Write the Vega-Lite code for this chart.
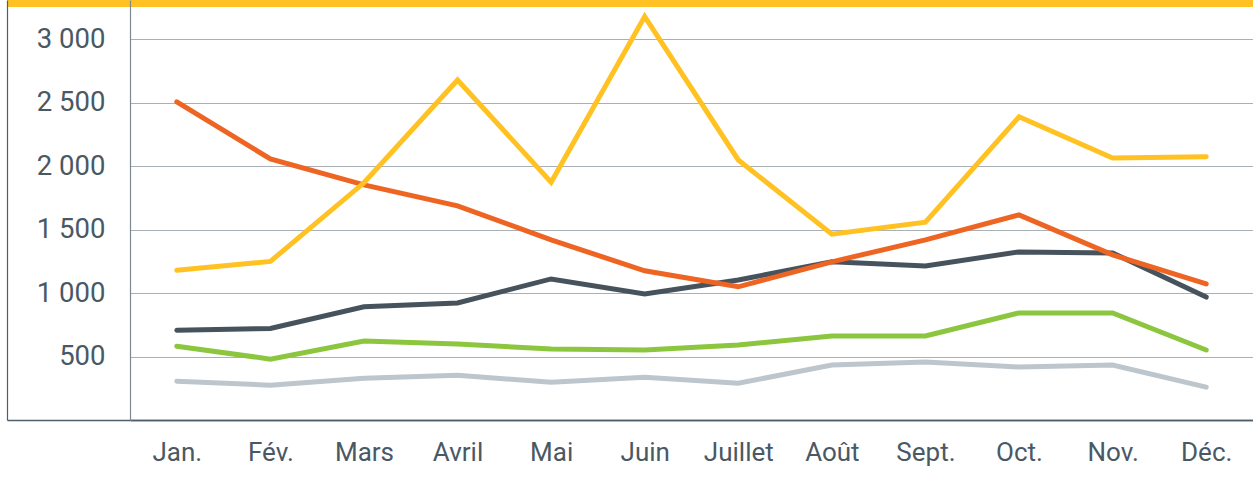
{
  "$schema": "https://vega.github.io/schema/vega-lite/v6.json",
  "width": 1123,
  "height": 420,
  "autosize": "none",
  "padding": {"left": 130, "top": 0, "right": 0, "bottom": 61},
  "background": "white",
  "config": {"view": {"stroke": null}},
  "data": {
    "values": [
      {"mois": "Jan.", "serie": "a_gris", "valeur": 306},
      {"mois": "Fév.", "serie": "a_gris", "valeur": 274},
      {"mois": "Mars", "serie": "a_gris", "valeur": 329},
      {"mois": "Avril", "serie": "a_gris", "valeur": 353},
      {"mois": "Mai", "serie": "a_gris", "valeur": 298},
      {"mois": "Juin", "serie": "a_gris", "valeur": 337},
      {"mois": "Juillet", "serie": "a_gris", "valeur": 290},
      {"mois": "Août", "serie": "a_gris", "valeur": 434},
      {"mois": "Sept.", "serie": "a_gris", "valeur": 458},
      {"mois": "Oct.", "serie": "a_gris", "valeur": 418},
      {"mois": "Nov.", "serie": "a_gris", "valeur": 434},
      {"mois": "Déc.", "serie": "a_gris", "valeur": 259},
      {"mois": "Jan.", "serie": "b_vert", "valeur": 582},
      {"mois": "Fév.", "serie": "b_vert", "valeur": 480},
      {"mois": "Mars", "serie": "b_vert", "valeur": 622},
      {"mois": "Avril", "serie": "b_vert", "valeur": 599},
      {"mois": "Mai", "serie": "b_vert", "valeur": 560},
      {"mois": "Juin", "serie": "b_vert", "valeur": 552},
      {"mois": "Juillet", "serie": "b_vert", "valeur": 591},
      {"mois": "Août", "serie": "b_vert", "valeur": 662},
      {"mois": "Sept.", "serie": "b_vert", "valeur": 662},
      {"mois": "Oct.", "serie": "b_vert", "valeur": 844},
      {"mois": "Nov.", "serie": "b_vert", "valeur": 844},
      {"mois": "Déc.", "serie": "b_vert", "valeur": 552},
      {"mois": "Jan.", "serie": "c_ardoise", "valeur": 707},
      {"mois": "Fév.", "serie": "c_ardoise", "valeur": 722},
      {"mois": "Mars", "serie": "c_ardoise", "valeur": 892},
      {"mois": "Avril", "serie": "c_ardoise", "valeur": 923},
      {"mois": "Mai", "serie": "c_ardoise", "valeur": 1112},
      {"mois": "Juin", "serie": "c_ardoise", "valeur": 994},
      {"mois": "Juillet", "serie": "c_ardoise", "valeur": 1104},
      {"mois": "Août", "serie": "c_ardoise", "valeur": 1247},
      {"mois": "Sept.", "serie": "c_ardoise", "valeur": 1215},
      {"mois": "Oct.", "serie": "c_ardoise", "valeur": 1325},
      {"mois": "Nov.", "serie": "c_ardoise", "valeur": 1317},
      {"mois": "Déc.", "serie": "c_ardoise", "valeur": 969},
      {"mois": "Jan.", "serie": "d_orange", "valeur": 2508},
      {"mois": "Fév.", "serie": "d_orange", "valeur": 2058},
      {"mois": "Mars", "serie": "d_orange", "valeur": 1853},
      {"mois": "Avril", "serie": "d_orange", "valeur": 1688},
      {"mois": "Mai", "serie": "d_orange", "valeur": 1420},
      {"mois": "Juin", "serie": "d_orange", "valeur": 1176},
      {"mois": "Juillet", "serie": "d_orange", "valeur": 1050},
      {"mois": "Août", "serie": "d_orange", "valeur": 1247},
      {"mois": "Sept.", "serie": "d_orange", "valeur": 1420},
      {"mois": "Oct.", "serie": "d_orange", "valeur": 1617},
      {"mois": "Nov.", "serie": "d_orange", "valeur": 1302},
      {"mois": "Déc.", "serie": "d_orange", "valeur": 1073},
      {"mois": "Jan.", "serie": "e_jaune", "valeur": 1180},
      {"mois": "Fév.", "serie": "e_jaune", "valeur": 1250},
      {"mois": "Mars", "serie": "e_jaune", "valeur": 1870},
      {"mois": "Avril", "serie": "e_jaune", "valeur": 2680},
      {"mois": "Mai", "serie": "e_jaune", "valeur": 1875},
      {"mois": "Juin", "serie": "e_jaune", "valeur": 3180},
      {"mois": "Juillet", "serie": "e_jaune", "valeur": 2050},
      {"mois": "Août", "serie": "e_jaune", "valeur": 1465},
      {"mois": "Sept.", "serie": "e_jaune", "valeur": 1560},
      {"mois": "Oct.", "serie": "e_jaune", "valeur": 2390},
      {"mois": "Nov.", "serie": "e_jaune", "valeur": 2065},
      {"mois": "Déc.", "serie": "e_jaune", "valeur": 2075}
    ]
  },
  "layer": [
    {
      "mark": {"type": "line", "strokeWidth": 5, "strokeCap": "round", "strokeJoin": "miter"},
      "encoding": {
        "x": {
          "field": "mois",
          "type": "ordinal",
          "sort": ["Jan.", "Fév.", "Mars", "Avril", "Mai", "Juin", "Juillet", "Août", "Sept.", "Oct.", "Nov.", "Déc."],
          "scale": {"type": "point", "padding": 0.5},
          "axis": {
            "title": null,
            "orient": "bottom",
            "labelAngle": 0,
            "labelFont": "Roboto",
            "labelFontSize": 26,
            "labelColor": "#4a5864",
            "labelPadding": 19.5,
            "ticks": false,
            "grid": false,
            "domain": true,
            "domainColor": "#505e69",
            "domainWidth": 1.5
          }
        },
        "y": {
          "field": "valeur",
          "type": "quantitative",
          "scale": {"domain": [0, 3311], "nice": false, "zero": true},
          "axis": {
            "title": null,
            "values": [0, 500, 1000, 1500, 2000, 2500, 3000, 3311],
            "labelExpr": "datum.value >= 500 && datum.value <= 3000 ? replace(format(datum.value, ','), ',', ' ') : ''",
            "labelFont": "Roboto",
            "labelFontSize": 27.5,
            "labelColor": "#4a5864",
            "labelPadding": -98,
            "labelBaseline": "middle",
            "ticks": true,
            "tickSize": 123,
            "tickColor": {"condition": {"test": "datum.value == 0", "value": "#505e69"}, "value": "#ffc222"},
            "tickWidth": {"condition": {"test": "datum.value == 0", "value": 1.5}, "value": 13},
            "tickOpacity": {"condition": {"test": "datum.value == 0 || datum.value > 3200", "value": 1}, "value": 0},
            "grid": true,
            "gridColor": {"condition": [{"test": "datum.value > 3200", "value": "#ffc222"}, {"test": "datum.value == 0", "value": "#505e69"}], "value": "#a9b0b6"},
            "gridWidth": {"condition": [{"test": "datum.value > 3200", "value": 13}, {"test": "datum.value == 0", "value": 1.5}], "value": 1},
            "domain": true,
            "domainColor": "#7d878f",
            "domainWidth": 1.2
          }
        },
        "color": {
          "field": "serie",
          "type": "nominal",
          "scale": {
            "domain": ["a_gris", "b_vert", "c_ardoise", "d_orange", "e_jaune"],
            "range": ["#bdc6cc", "#8cc63e", "#46535d", "#ee6423", "#ffc222"]
          },
          "legend": null
        }
      }
    },
    {
      "mark": {"type": "line", "opacity": 0},
      "encoding": {
        "x": {"field": "mois", "type": "ordinal", "sort": ["Jan.", "Fév.", "Mars", "Avril", "Mai", "Juin", "Juillet", "Août", "Sept.", "Oct.", "Nov.", "Déc."]},
        "y": {
          "field": "valeur",
          "type": "quantitative",
          "axis": {
            "orient": "left",
            "offset": 123,
            "title": null,
            "labels": false,
            "ticks": false,
            "grid": false,
            "domain": true,
            "domainColor": "#505e69",
            "domainWidth": 1.2
          }
        },
        "detail": {"field": "serie"}
      }
    }
  ],
  "resolve": {"axis": {"y": "independent"}}
}
